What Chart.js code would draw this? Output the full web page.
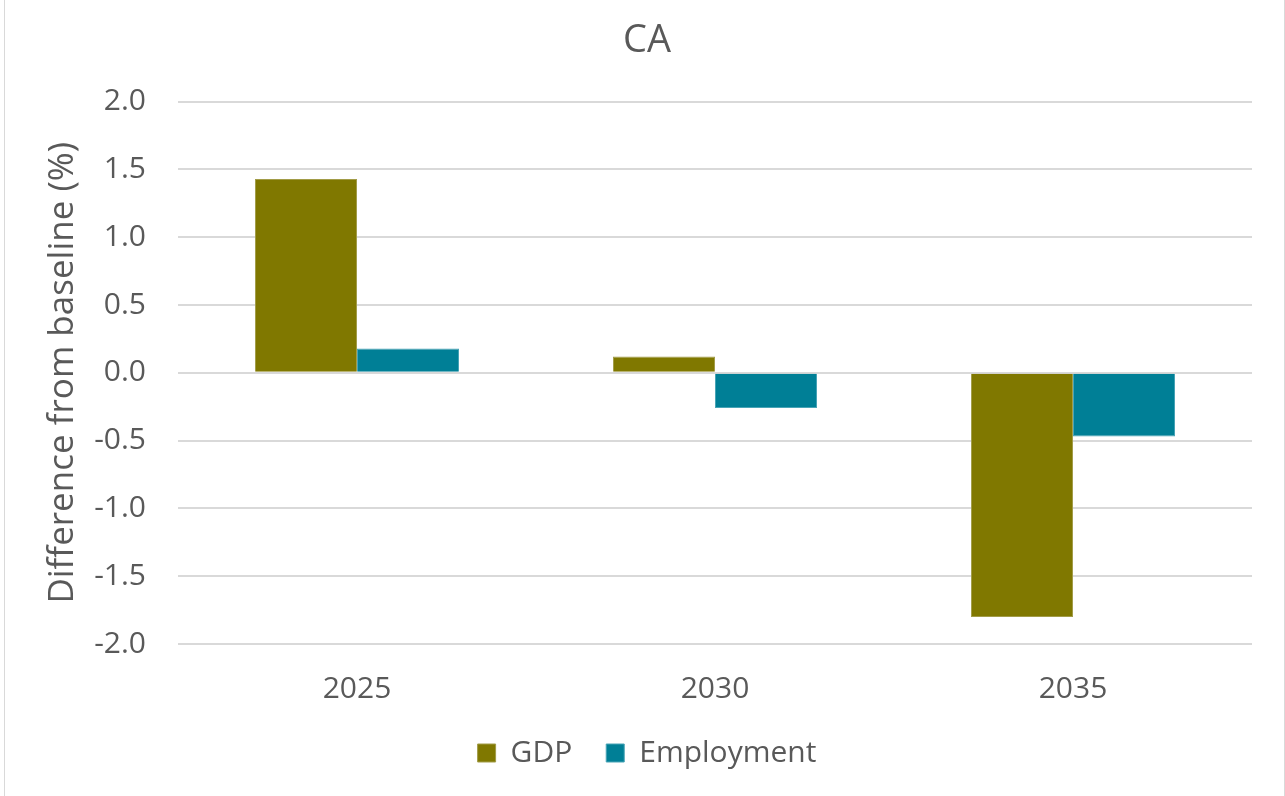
<!DOCTYPE html>
<html>
<head>
<meta charset="utf-8">
<script src="https://cdn.jsdelivr.net/npm/chart.js@4"></script>
<style>
  html, body { margin: 0; padding: 0; background: #fff; }
  #wrap { position: absolute; left: 0; top: 0; width: 1285px; height: 796px; }
  #frame { position: absolute; left: 4px; top: -1px; width: 1279px; height: 798px;
           border-left: 1px solid #d9d9d9; border-right: 1px solid #d9d9d9; pointer-events: none; }
</style>
</head>
<body>
<div id="wrap">
  <canvas id="chart" width="1285" height="796"></canvas>
  <div id="frame"></div>
</div>
<script>
const years = ["2025", "2030", "2035"];
const gdp = [1.43, 0.12, -1.80];
const employment = [0.18, -0.26, -0.47];
const yTicks = [-2.0, -1.5, -1.0, -0.5, 0.0, 0.5, 1.0, 1.5, 2.0];

const FONT = "'Open Sans', 'DejaVu Sans', sans-serif";
const TEXT = "#595959";

const ctx = document.getElementById("chart").getContext("2d");

new Chart(ctx, {
  type: "bar",
  data: {
    labels: years,
    datasets: [
      {
        label: "GDP",
        data: gdp,
        backgroundColor: "#807800",
        borderColor: "#a29c48",
        borderWidth: 1,
        categoryPercentage: 0.57,
        barPercentage: 1.0
      },
      {
        label: "Employment",
        data: employment,
        backgroundColor: "#007f96",
        borderColor: "#48a4b6",
        borderWidth: 1,
        categoryPercentage: 0.57,
        barPercentage: 1.0
      }
    ]
  },
  options: {
    responsive: false,
    animation: false,
    devicePixelRatio: 1,
    layout: { padding: { left: 42, right: 33, top: 0, bottom: 18 } },
    plugins: {
      title: {
        display: true,
        text: "CA",
        color: TEXT,
        font: { family: FONT, size: 38, weight: "normal" },
        padding: { top: 18, bottom: 38 }
      },
      legend: {
        position: "bottom",
        labels: {
          color: TEXT,
          font: { family: FONT, size: 30 },
          boxWidth: 18,
          boxHeight: 18,
          padding: 34
        }
      },
      tooltip: { enabled: false }
    },
    scales: {
      x: {
        afterFit: (scale) => { scale.height = 60; },
        grid: { display: false, drawTicks: false },
        border: { display: false },
        ticks: { color: TEXT, font: { family: FONT, size: 30 }, padding: 27 }
      },
      y: {
        min: -2,
        max: 2,
        afterBuildTicks: (scale) => { scale.ticks = yTicks.map(v => ({ value: v })); },
        afterFit: (scale) => { scale.width = 136; },
        grid: { color: "#d9d9d9", lineWidth: 2, drawTicks: false },
        border: { display: false },
        ticks: {
          color: TEXT,
          font: { family: FONT, size: 30 },
          padding: 32,
          callback: (v) => Number(v).toFixed(1)
        },
        title: {
          display: true,
          text: "Difference from baseline (%)",
          color: TEXT,
          font: { family: FONT, size: 35 },
          padding: { top: 0, bottom: 0 }
        }
      }
    }
  }
});
</script>
</body>
</html>
